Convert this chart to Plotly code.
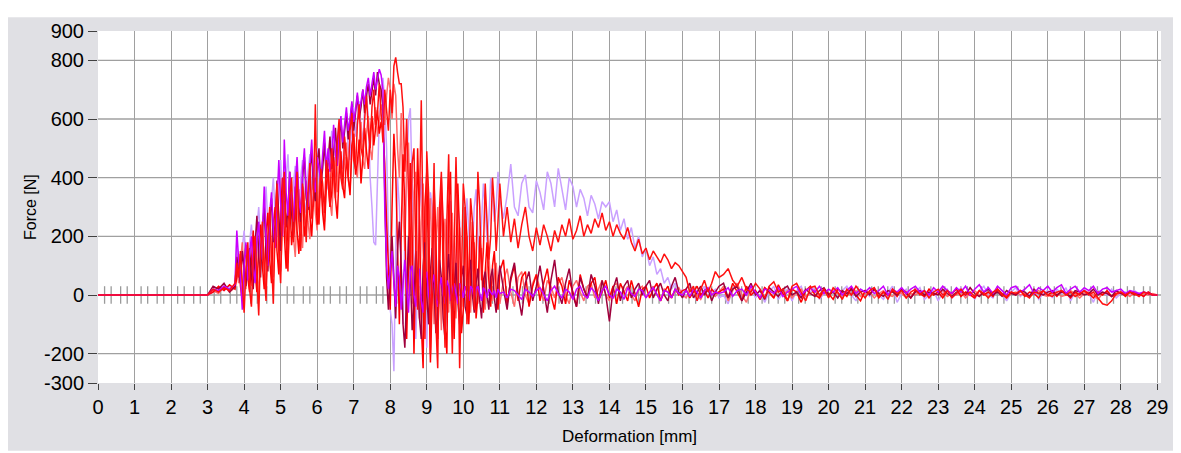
import numpy as np
import plotly.graph_objects as go

# ---------------- data ----------------
# sampling grid of deformation [mm]
X_SEG_A = [3.0, 3.15, 3.3, 3.45, 3.6, 3.75]
X_SEG_B = [round(3.8 + 0.05 * k, 3) for k in range(145)]      # 3.80 .. 11.00
X_SEG_C = [round(11.1 + 0.1 * k, 3) for k in range(60)]       # 11.1 .. 17.0
X_SEG_D = [round(17.125 + 0.125 * k, 3) for k in range(96)]   # 17.125 .. 29.0
X_GRID = [0.0] + X_SEG_A + X_SEG_B + X_SEG_C + X_SEG_D

red_force = [0,
    0, 20, 10, 25, 15, 40,
    110, 60, 150, 40, -60, 90, 180, 20, -40, 120,
    200, 60, -70, 150, 250, 80, -20, 200, 300, 120,
    -30, 250, 380, 150, 40, 300, 420, 200, 80, 330,
    400, 180, 260, 420, 250, 150, 380, 300, 180, 350,
    450, 260, 330, 650, 300, 240, 430, 380, 280, 460,
    380, 300, 500, 420, 330, 520, 600, 400, 360, 540,
    480, 400, 560, 620, 460, 430, 580, 650, 500, 470,
    600, 680, 560, 500, 640, 700, 580, 620, 720, 600,
    520, 700, 620, 560, 700, 620, 780, 810, 760, 720,
    720, 640, 420, 600, 350, 100, 450, 500, 150, -50,
    300, 664, 200, -150, 490, 350, -200, 100, 450, -100,
    -250, 300, 420, 50, -180, 250, 480, 100, -200, 150,
    470, 200, -250, 50, 380, 300, -100, 20, 330, 250,
    -50, 100, 420, 300, 50, 150, 380, 250, 120, 200,
    400, 300, 150, 250, 380,
    200, 300, 180, 260, 160, 240, 300, 200, 150, 230,
    170, 240, 200, 150, 220, 180, 240, 200, 260, 190,
    220, 270, 200, 240, 210, 260, 230, 280, 220, 250,
    200, 240, 210, 190, 230, 180, 150, 190, 140, 160,
    120, 150, 130, 110, 140, 120, 90, 110, 100, 80,
    60, 10, 30, -20, 20, 50, 10, 40, 80, 60,
    70, 90, 50, 30, 60, 20, 10, 40,
    20, -10, 30, 45, 10, 20, -20, 30,
    40, 10, -20, 25, 30, 0, 20, -10,
    25, 10, -15, 20, 0, 30, 10, -10,
    15, 25, -5, 10, -15, 20, 5, 15,
    -10, 10, 20, 0, 15, -10, 10, 20,
    0, 15, -10, 5, 20, 0, 10, -5,
    15, 5, -10, 10, 20, 0, -5, 10,
    5, 15, 0, -10, 10, 5, 15, 0,
    -5, 10, 15, 0, 10, -5, 5, 15,
    0, 10, -10, -30, -35, -20, 5, 10,
    0, 10, 5, -5, 10, 5, 0, 0]

red2_force = [0,
    0, 10, 30, 15, 35, 20,
    60, 140, 30, -20, 100, 170, 60, 10, 130, 220,
    80, 10, 170, 240, 100, 20, 210, 280, 120, 40,
    240, 300, 150, 70, 280, 400, 210, 90, 250, 330,
    170, 250, 370, 220, 140, 300, 370, 200, 250, 350,
    270, 200, 330, 400, 240, 300, 410, 280, 220, 370,
    430, 300, 350, 470, 330, 260, 410, 490, 370, 330,
    470, 390, 340, 510, 550, 410, 450, 530, 380, 470,
    570, 490, 430, 550, 610, 510, 570, 630, 550, 590,
    560, 450, 250, 100, -50, 300, 550, 420, 200, -100,
    200, 480, 300, -150, 100, 450, 200, -200, 150, 500,
    250, -100, -250, 300, 420, 100, -230, 0, 380, 200,
    -150, 50, 400, 250, -100, -200, 300, 420, 50, -150,
    100, 380, 200, -130, -50, 300, 200, -100, 50, 250,
    150, -80, 0, 200, 120, -60, 80, 180, 50, -40,
    100, 150, 20, -50, 80,
    120, -30, 50, 100, -20, 60, 80, -40, 30, 70,
    -20, 40, 90, 0, -50, 60, 30, -30, 50, 10,
    -40, 70, 20, -10, 40, 60, -20, 10, 50, -10,
    30, -30, 40, 10, -20, 50, 0, -40, 20, 30,
    -10, 20, 40, -20, 10, 30, -10, 20, 0, 15,
    20, -10, 10, 30, 0, 15, -10, 20, 5, 10,
    20, -10, 40, 10, -20, 30, 0, 15,
    -15, 25, 10, -10, 35, 5, -20, 20,
    10, -25, 15, 30, 0, -10, 20, 5,
    -15, 20, 10, -5, 25, 0, -20, 15,
    5, 20, -10, 10, 0, 15, -5, 20,
    10, -10, 15, 5, -5, 20, 0, 10,
    -10, 15, 5, 20, -5, 10, 0, -10,
    15, 0, 10, -5, 20, 5, -10, 10,
    0, 15, -5, 10, 5, -10, 15, 0,
    10, -5, 15, 5, -10, 10, 0, 15,
    5, -10, 10, 0, 15, -5, 5, 10,
    -5, 10, 0, 5, -5, 10, 0, 0]

salmon_force = [0,
    0, 15, 5, 30, 10, 25,
    90, 40, 120, 180, 70, 20, 150, 100, 30, 160,
    200, 80, 0, 150, 220, 110, 30, 180, 270, 130,
    60, 220, 300, 150, 80, 240, 320, 190, 110, 270,
    340, 200, 130, 290, 360, 230, 160, 320, 390, 250,
    190, 340, 410, 280, 220, 370, 430, 300, 250, 390,
    450, 320, 270, 410, 480, 350, 560, 430, 380, 460,
    520, 390, 360, 490, 560, 430, 400, 520, 590, 460,
    430, 550, 610, 500, 460, 580, 640, 540, 600, 650,
    620, 580, 680, 740, 700, 600, 720, 680, 500, 400,
    620, 300, 150, 450, 520, 200, 0, 350, 420, 100,
    -80, 250, 380, 150, -50, 200, 330, 100, -100, 180,
    300, 80, -120, 150, 260, 60, -60, 200, 280, 50,
    -80, 120, 230, 40, -40, 150, 200, 20, -60, 100,
    180, 50, -30, 120, 160, 0, -50, 90, 140, 30,
    -20, 60, 110, 20, -30,
    50, 90, 10, -40, 60, 80, 0, -30, 40, 70,
    20, -20, 50, 30, -10, 40, 60, 0, -30, 30,
    50, 10, -20, 30, 40, -10, 20, 50, 0, -20,
    30, 40, -10, 10, 30, 0, -20, 20, 30, -10,
    10, 30, 0, -20, 20, 10, -10, 15, 25, 0,
    -10, 15, 20, 0, -15, 10, 20, 5, -5, 10,
    30, -20, 15, 40, 0, -25, 20, 10,
    -15, 25, 5, -10, 20, 0, 15, -10,
    10, 20, -5, 5, 15, -10, 10, 0,
    20, 5, -10, 10, 0, 15, -5, 5,
    10, -10, 5, 15, 0, -5, 10, 5,
    -10, 5, 0, 10, -5, 5, 0, 10,
    15, -5, 5, 0, 10, -10, 5, 15,
    0, 10, -5, 5, 15, 0, -10, 5,
    10, 0, 5, -5, 10, 15, 0, -5,
    5, 10, -5, 0, 15, 5, -10, 5,
    10, 0, -15, 5, 10, -5, 0, 10,
    5, -5, 10, 0, 5, 0, 5, 0]

maroon_force = [0,
    0, 30, 20, 40, 10, 30,
    130, 80, 40, 150, 100, 30, 120, 160, 60, 20,
    170, 270, 130, 60, 230, 300, 150, 80, 260, 330,
    180, 240, 390, 260, 150, 320, 400, 230, 290, 420,
    280, 200, 350, 440, 300, 250, 400, 470, 330, 290,
    420, 490, 360, 320, 450, 500, 380, 430, 520, 400,
    460, 540, 430, 480, 570, 460, 520, 600, 500, 560,
    620, 530, 580, 650, 560, 610, 680, 600, 640, 700,
    620, 680, 720, 650, 700, 740, 680, 760, 720, 700,
    640, 400, 60, -50, 100, 200, 50, -80, 150, 250,
    100, -100, -180, 50, 200, 80, -120, -30, 150, 60,
    -80, -150, 100, 180, 0, -100, 80, 160, 20, -130,
    -60, 120, 60, -80, -150, 50, 140, 20, -90, 30,
    110, -20, -100, 60, 100, -40, -70, 70, 120, 0,
    -60, 40, 90, -20, -80, 50, 80, 0, -50, 60,
    90, -10, -60, 40, 100,
    20, -50, 60, 110, 0, -70, 40, 80, -20, 30,
    100, 20, -60, 50, 120, 10, -30, 40, 90, 0,
    -40, 60, 20, -10, 70, 30, -30, 50, 0, -90,
    20, 60, -20, 30, 50, -10, 20, 40, 0, 30,
    50, -10, 20, 40, 0, -20, 30, 60, 10, -10,
    20, 40, -10, 10, 30, 0, 20, -20, 10, 30,
    40, -10, 20, 30, -20, 10, 40, 0,
    15, -15, 25, 10, -5, 20, 30, 0,
    10, -10, 20, 5, -5, 15, 25, 0,
    10, -10, 15, 5, 20, -5, 10, 15,
    0, 20, 5, -5, 15, 10, 0, 20,
    5, -10, 10, 15, 0, 10, 5, 0,
    20, 5, -5, 10, 15, 0, 25, 5,
    -5, 10, 20, 0, 10, -5, 15, 5,
    0, 15, 10, -5, 20, 5, 0, 10,
    15, 0, 10, 5, -5, 15, 10, 0,
    5, 20, 0, 10, 5, -5, 15, 5,
    0, 10, 5, 0, 10, 5, 0, 0]

magenta_force = [0,
    0, 20, 15, 30, 20, 35,
    220, 120, 60, -50, 100, 180, 50, 140, 200, 90,
    40, 190, 250, 120, 210, 370, 200, 100, 280, 350,
    230, 160, 300, 460, 310, 200, 530, 350, 270, 420,
    330, 250, 380, 470, 320, 280, 420, 500, 360, 300,
    440, 530, 400, 350, 470, 420, 390, 480, 560, 430,
    500, 420, 470, 580, 480, 440, 550, 610, 520, 580,
    640, 560, 600, 660, 590, 630, 690, 620, 660, 700,
    650, 710, 740, 680, 720, 760, 700, 740, 770, 750,
    700, 300, 100, 20, 80, 150, 40, -40, 100, 60,
    -50, 40, 120, 30, -60, 80, 100, 0, -40, 60,
    90, -20, -60, 50, 80, 0, -30, 40, 70, -10,
    -40, 30, 60, 0, -30, 50, 30, -20, 20, 40,
    0, -30, 40, 20, -10, 30, 10, -20, 30, 20,
    -10, 20, 30, 0, -20, 25, 15, -10, 20, 10,
    0, 15, -10, 20, 5,
    10, -10, 20, 15, 0, -15, 20, 10, -5, 15,
    25, 0, -20, 15, 30, 5, -10, 20, 10, -15,
    20, 30, 0, -10, 25, 10, -20, 15, 30, 0,
    -10, 20, 10, -15, 25, 5, -5, 20, 15, -10,
    10, 25, 0, -20, 15, 10, -10, 20, 5, 0,
    15, -5, 20, 10, -10, 15, 25, 0, 10, 5,
    10, 25, -5, 15, 20, 0, 30, 10,
    -10, 20, 15, 5, 25, -5, 10, 20,
    30, 0, 15, 25, 10, 30, 5, 20,
    10, 25, 0, 15, 30, 5, 20, 10,
    25, 5, 15, 30, 0, 20, 10, 25,
    5, 20, 30, 10, 15, 0, 25, 10,
    30, 15, 5, 25, 10, 30, 0, 20,
    35, 10, 25, 5, 30, 15, 0, 25,
    30, 10, 20, 35, 5, 25, 15, 30,
    10, 25, 35, 5, 20, 30, 10, 25,
    15, 30, 5, 20, 25, 10, 15, 20,
    5, 15, 10, 5, 10, 5, 0, 0]

lavender_force = [0,
    0, 10, 25, 15, 30, 20,
    180, 100, 40, 160, 220, 130, 70, 180, 240, 150,
    90, 230, 300, 180, 120, 280, 370, 240, 160, 320,
    400, 270, 200, 350, 460, 300, 240, 400, 480, 330,
    260, 380, 440, 300, 250, 400, 460, 320, 280, 420,
    480, 350, 300, 430, 500, 380, 330, 460, 520, 400,
    360, 490, 560, 440, 400, 530, 580, 470, 430, 560,
    610, 500, 460, 590, 640, 540, 600, 660, 570, 520,
    640, 690, 600, 400, 300, 180, 170, 350, 600, 700,
    740, 660, 500, 200, -50, -100, -260, 150, 400, 300,
    100, -100, 200, 450, 600, 637, 400, 100, -150, 50,
    300, 400, 200, -50, -180, 100, 350, 300, 50, -120,
    0, 250, 330, 150, -50, 80, 280, 320, 120, -20,
    100, 300, 250, 60, 0, 200, 330, 220, 80, 150,
    300, 360, 200, 120, 250, 380, 300, 180, 260, 400,
    350, 250, 300, 420, 330,
    260, 340, 446, 300, 270, 380, 410, 300, 280, 390,
    350, 290, 420, 380, 300, 432, 360, 290, 400, 370,
    300, 360, 330, 270, 340, 310, 260, 318, 300, 318,
    250, 290, 220, 260, 190, 230, 160, 200, 130, 160,
    100, 130, 70, 90, 40, 60, 20, 40, 0, 20,
    -10, 20, 0, -20, 10, 30, -10, 10, 20, -10,
    0, -30, 20, 40, -20, 10, 30, -10,
    20, -25, 10, 30, -15, 5, 20, -20,
    15, 30, -10, 10, 25, -15, 5, 20,
    10, -10, 15, 30, 0, -20, 20, 10,
    -5, 25, 0, -15, 10, 30, -25, 5,
    20, -10, 10, 25, -15, 0, 15, -20,
    10, 20, -10, 5, 25, -5, 10, -15,
    15, 30, 0, -10, 20, 5, -20, 10,
    25, -5, 10, 0, 20, -15, 5, 15,
    -10, 20, 5, 25, -20, 10, 0, 20,
    5, -25, 15, 10, 0, 20, -10, 5,
    10, 0, 15, 5, -5, 10, 0, 0]

# drawing order: first is at the back
SERIES = [
    ("lavender", lavender_force, "#c9a0ff"),
    ("salmon", salmon_force, "#ff6a6a"),
    ("red2", red2_force, "#ff0000"),
    ("maroon", maroon_force, "#a0003c"),
    ("magenta", magenta_force, "#c800ff"),
    ("red", red_force, "#ff1010"),
]

Y_TICKS = [-300, -200, 0, 200, 400, 600, 800, 900]
Y_GRID = [-200, 0, 200, 400, 600, 800]
X_TICKS = list(range(0, 30))
# small marker ticks drawn along the zero line (fractions of each mm)
ZERO_MARK_OFFSETS = [0.18, 0.36, 0.62, 0.8]

for name, ys, _ in SERIES:
    assert len(ys) == len(X_GRID), (name, len(ys), len(X_GRID))

# ---------------- figure ----------------
fig = go.Figure()

mx, my = [], []
for n in range(29):
    for o in ZERO_MARK_OFFSETS:
        mx += [n + o, n + o, None]
        my += [-30, 30, None]
fig.add_trace(go.Scatter(x=mx, y=my, mode="lines",
                         line=dict(color="#9a9a9a", width=1.3),
                         hoverinfo="skip", showlegend=False))

for name, ys, col in SERIES:
    fig.add_trace(go.Scatter(x=X_GRID, y=ys, mode="lines", name=name,
                             line=dict(color=col, width=1.5),
                             showlegend=False))

# page body has an 8px margin: figure sits at (8, 8) in the window
OFF = 8
PLOT_L, PLOT_R, PLOT_T, PLOT_B = 98, 1161, 24, 383   # window pixels of plot area
W, H = 1181 - OFF, 453 - OFF
L, T = PLOT_L - OFF, PLOT_T - OFF
R, B = 1181 - PLOT_R, 453 - PLOT_B
pw, ph = PLOT_R - PLOT_L, PLOT_B - PLOT_T

def px_x(p):
    return (p - PLOT_L) / pw

def px_y(p):
    return (PLOT_B - p) / ph

shapes = [dict(type="rect", xref="paper", yref="paper",
               x0=px_x(7), x1=px_x(1176), y0=px_y(452), y1=px_y(10),
               fillcolor="#e0e0e4", line=dict(width=0), layer="below"),
          dict(type="rect", xref="paper", yref="paper",
               x0=0, x1=1, y0=0, y1=1,
               fillcolor="white", line=dict(width=0), layer="below")]
for g in Y_GRID:
    shapes.append(dict(type="line", xref="paper", yref="y", x0=0, x1=1,
                       y0=g, y1=g, line=dict(color="#a0a0a0", width=1.3),
                       layer="below"))

fig.update_layout(
    width=W, height=H,
    margin=dict(l=L, r=R, t=T, b=B),
    paper_bgcolor="white",
    plot_bgcolor="rgba(0,0,0,0)",
    shapes=shapes,
    font=dict(family="Liberation Sans, Arial, sans-serif", color="#000000"),
    annotations=[
        dict(text="Force [N]", xref="paper", yref="paper",
             x=px_x(30), y=0.5, textangle=-90, showarrow=False,
             font=dict(size=16), xanchor="center", yanchor="middle"),
        dict(text="Deformation [mm]", xref="paper", yref="paper",
             x=0.5, y=px_y(438), showarrow=False,
             font=dict(size=17), xanchor="center", yanchor="middle"),
    ],
)

fig.update_xaxes(range=[0, 29.1], tickvals=X_TICKS, ticktext=[str(v) for v in X_TICKS],
                 showgrid=True, gridcolor="#a0a0a0", gridwidth=1.3,
                 zeroline=False, showline=False,
                 ticks="outside", ticklen=6, tickcolor="#404040", tickwidth=1,
                 tickfont=dict(size=20))
fig.update_yaxes(range=[-300, 900], tickvals=Y_TICKS, ticktext=[str(v) for v in Y_TICKS],
                 showgrid=False, zeroline=False, showline=False,
                 ticks="outside", ticklen=9, tickcolor="#404040", tickwidth=1,
                 tickfont=dict(size=20))

fig.write_html("out.html")
